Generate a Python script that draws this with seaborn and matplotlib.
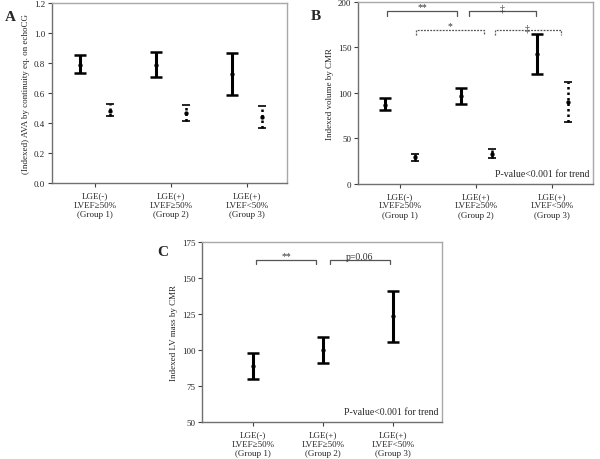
import numpy as np
import pandas as pd
import matplotlib
matplotlib.use("Agg")
import matplotlib.pyplot as plt
import seaborn as sns

sns.set_style("white")
plt.rcParams["font.family"] = ["Liberation Serif", "DejaVu Serif"]
plt.rcParams["font.size"] = 6.5

groups = ["LGE(-)\nLVEF≥50%\n(Group 1)", "LGE(+)\nLVEF≥50%\n(Group 2)", "LGE(+)\nLVEF<50%\n(Group 3)"]

# A: indexed AVA (solid) and AVA (dotted)
a_solid_mean = [0.79, 0.79, 0.725]
a_solid_lo = [0.735, 0.705, 0.59]
a_solid_hi = [0.855, 0.875, 0.865]
a_dot_mean = [0.48, 0.465, 0.44]
a_dot_lo = [0.445, 0.415, 0.365]
a_dot_hi = [0.525, 0.52, 0.515]

# B: indexed volume by CMR
b_solid_mean = [87, 97, 143]
b_solid_lo = [81, 88, 121]
b_solid_hi = [94, 105, 165]
b_dot_mean = [29.5, 33, 90]
b_dot_lo = [25, 28, 68]
b_dot_hi = [33, 38, 112]

# C: indexed LV mass by CMR
c_mean = [89, 100, 123.5]
c_lo = [80, 91, 105.5]
c_hi = [98, 109, 141]

frame_col = "#a8a8a8"


def make_df(mean, lo, hi, offset):
    df = pd.DataFrame({"x": np.arange(1, 4) + offset, "mean": mean, "lo": lo, "hi": hi})
    return df


def draw_bar(ax, df, style):
    if style == "solid":
        eb = ax.errorbar(df["x"], df["mean"], yerr=[df["mean"] - df["lo"], df["hi"] - df["mean"]],
                         fmt="none", ecolor="black", elinewidth=2.2, capsize=4, capthick=1.8)
    else:
        eb = ax.errorbar(df["x"], df["mean"], yerr=[df["mean"] - df["lo"], df["hi"] - df["mean"]],
                         fmt="none", ecolor="black", elinewidth=1.8, capsize=3.2, capthick=1.2)
        eb[-1][0].set_linestyle((0, (1, 1.2)))
    sns.scatterplot(data=df, x="x", y="mean", ax=ax, color="black", s=8, marker="o",
                    edgecolor="black", zorder=5, legend=False)


def style_ax(ax, ylim, yticks, xlim, ylabel, fmt="{:.0f}"):
    ax.set_xlim(*xlim)
    ax.set_ylim(*ylim)
    ax.set_yticks(yticks)
    ax.set_yticklabels([fmt.format(t) for t in yticks])
    ax.set_xticks([1, 2, 3])
    ax.set_xticklabels(groups, linespacing=1.2)
    ax.set_xlabel("")
    ax.set_ylabel(ylabel, fontsize=6.5, labelpad=3)
    for s in ax.spines.values():
        s.set_color(frame_col)
        s.set_linewidth(1.0)
    ax.spines["left"].set_color("#707070")
    ax.spines["bottom"].set_color("#707070")
    ax.tick_params(axis="both", direction="out", length=3, width=0.8, color="#404040",
                   labelsize=6.5, pad=2, left=True, bottom=True)
    ax.tick_params(axis="x", pad=3)


def bracket(ax, x1, x2, y, leg, text, dotted=False, ty=None):
    ls = (0, (1.5, 1)) if dotted else "-"
    ax.plot([x1, x1, x2, x2], [y - leg, y, y, y - leg], color="#555555", lw=0.9, ls=ls)
    ax.text((x1 + x2) / 2, y if ty is None else ty, text, ha="center", va="bottom", fontsize=7,
            color="#333333")


fig = plt.figure(figsize=(6, 4.6), dpi=100)

# Panel A
axA = fig.add_axes([0.0867, 0.6, 0.392, 0.391])
draw_bar(axA, make_df(a_solid_mean, a_solid_lo, a_solid_hi, -0.2), "solid")
draw_bar(axA, make_df(a_dot_mean, a_dot_lo, a_dot_hi, 0.2), "dotted")
style_ax(axA, (0, 1.2), np.arange(0, 1.21, 0.2), (0.43, 3.53),
         "(Indexed) AVA by continuity eq. on echoCG", fmt="{:.1f}")
fig.text(0.008, 0.962, "A", fontsize=11, fontweight="bold", va="center")

# Panel B
axB = fig.add_axes([0.597, 0.598, 0.392, 0.3955])
draw_bar(axB, make_df(b_solid_mean, b_solid_lo, b_solid_hi, -0.2), "solid")
draw_bar(axB, make_df(b_dot_mean, b_dot_lo, b_dot_hi, 0.2), "dotted")
style_ax(axB, (0, 200), np.arange(0, 201, 50), (0.447, 3.54), "Indexed volume by CMR")
bracket(axB, 0.82, 1.75, 190, 5, "**")
bracket(axB, 1.9, 2.78, 190, 5, "‡", ty=188)
bracket(axB, 1.21, 2.1, 169, 5, "*", dotted=True)
bracket(axB, 2.24, 3.11, 169, 5, "‡", dotted=True, ty=167)
axB.text(0.985, 0.035, "P-value<0.001 for trend", transform=axB.transAxes, ha="right",
         va="bottom", fontsize=7)
fig.text(0.518, 0.965, "B", fontsize=11, fontweight="bold", va="center")

# Panel C
axC = fig.add_axes([0.337, 0.08, 0.4, 0.392])
draw_bar(axC, make_df(c_mean, c_lo, c_hi, 0.0), "solid")
style_ax(axC, (50, 175), np.arange(50, 176, 25), (0.27, 3.7), "Indexed LV mass by CMR")
bracket(axC, 1.04, 1.9, 162.5, 3, "**")
bracket(axC, 2.09, 2.95, 162.5, 3, "p=0.06", ty=161.5)
axC.text(0.985, 0.035, "P-value<0.001 for trend", transform=axC.transAxes, ha="right",
         va="bottom", fontsize=7)
fig.text(0.262, 0.452, "C", fontsize=11, fontweight="bold", va="center")

fig.savefig("out.png", dpi=100)
